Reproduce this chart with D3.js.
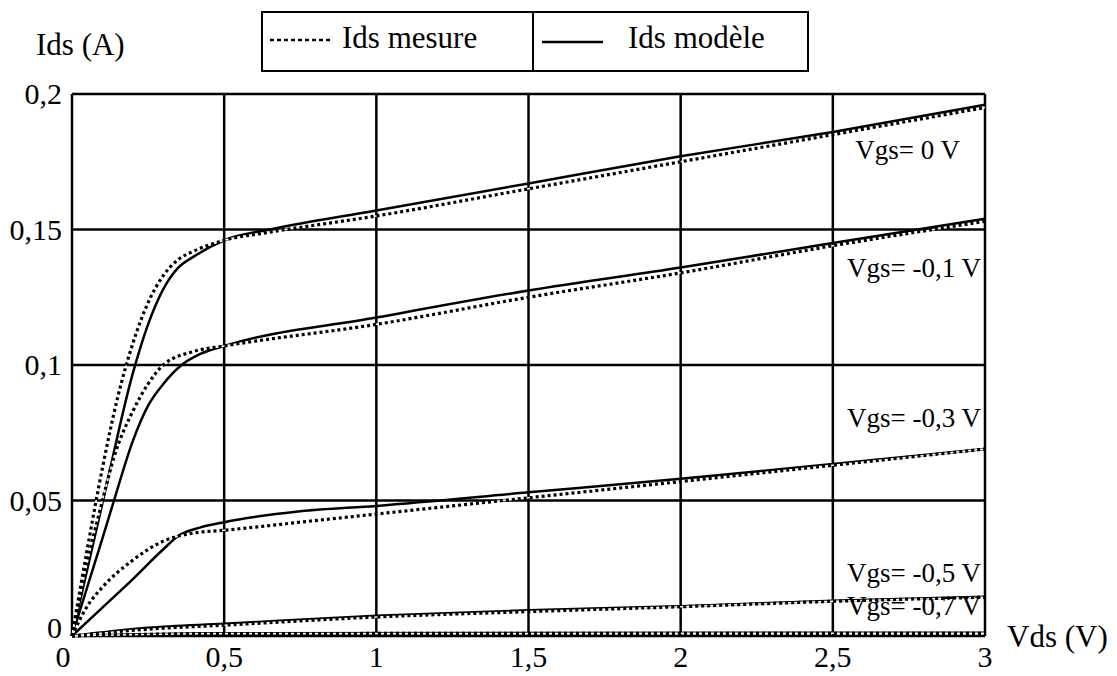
<!DOCTYPE html>
<html>
<head>
<meta charset="utf-8">
<script src="https://cdn.jsdelivr.net/npm/d3@7"></script>
<style>
  body { margin: 0; background: #fff; }
  svg text { font-family: "Liberation Serif", "Times New Roman", serif; fill: #000; }
</style>
</head>
<body>
<svg id="chart" width="1117" height="676"></svg>
<script>
// ticks
const xTicks = [0, 0.5, 1, 1.5, 2, 2.5, 3];
const yTicks = [0, 0.05, 0.1, 0.15, 0.2];

// Vgs = 0 V
const modele0 = [[0,0],[0.1,0.049],[0.2,0.097],[0.25,0.115],[0.3,0.128],[0.35,0.136],[0.4,0.140],[0.5,0.146],[0.65,0.150],[1,0.157],[1.5,0.167],[2,0.177],[2.5,0.186],[3,0.196]];
const mesure0 = [[0,0],[0.05,0.032],[0.1,0.062],[0.15,0.088],[0.2,0.108],[0.25,0.123],[0.3,0.133],[0.35,0.139],[0.4,0.142],[0.5,0.146],[0.65,0.149],[1,0.155],[1.5,0.165],[2,0.175],[2.5,0.185],[3,0.195]];
// Vgs = -0,1 V
const modele1 = [[0,0],[0.1,0.036],[0.138,0.05],[0.2,0.072],[0.25,0.085],[0.3,0.093],[0.36,0.100],[0.42,0.104],[0.5,0.107],[1,0.1175],[1.5,0.1275],[2,0.136],[2.5,0.145],[3,0.154]];
const mesure1 = [[0,0],[0.05,0.027],[0.1,0.05],[0.138,0.066],[0.2,0.083],[0.25,0.093],[0.3,0.1],[0.4,0.105],[0.5,0.107],[1,0.115],[1.5,0.125],[2,0.134],[2.5,0.144],[3,0.153]];
// Vgs = -0,3 V
const modele3 = [[0,0],[0.1,0.0105],[0.2,0.021],[0.3,0.032],[0.35,0.037],[0.42,0.040],[0.5,0.042],[0.75,0.046],[1,0.048],[1.5,0.053],[2,0.058],[2.5,0.0635],[3,0.069]];
const mesure3 = [[0,0],[0.05,0.011],[0.1,0.018],[0.2,0.028],[0.3,0.035],[0.4,0.038],[0.5,0.039],[0.75,0.042],[1,0.045],[1.5,0.051],[2,0.057],[2.5,0.063],[3,0.069]];
// Vgs = -0,5 V
const modele5 = [[0,0],[0.25,0.003],[0.5,0.0045],[1,0.0075],[1.5,0.0095],[2,0.011],[2.5,0.013],[3,0.0145]];
const mesure5 = [[0,0],[0.25,0.0025],[0.5,0.004],[1,0.007],[1.5,0.009],[2,0.0108],[2.5,0.0128],[3,0.0143]];
// Vgs = -0,7 V
const modele7 = [[0,0],[0.5,0.001],[3,0.0012]];
const mesure7 = [[0,0],[0.5,0.0009],[3,0.001]];

const vgsLabels = ["Vgs= 0 V", "Vgs= -0,1 V", "Vgs= -0,3 V", "Vgs= -0,5 V", "Vgs= -0,7 V"];
const labelIds = [0.176, 0.1323, 0.0773, 0.020, 0.0078];

const svg = d3.select("#chart");
const x = d3.scaleLinear().domain([0, 3]).range([72, 985]);
const y = d3.scaleLinear().domain([0, 0.2]).range([636, 94]);
const fmt = d => String(d).replace(".", ",");

// grid + frame
svg.append("g").selectAll("line").data(xTicks).join("line")
    .attr("x1", d => x(d)).attr("x2", d => x(d))
    .attr("y1", y(0)).attr("y2", y(0.2))
    .attr("stroke", "#000").attr("stroke-width", 2.5);
svg.append("g").selectAll("line").data(yTicks).join("line")
    .attr("x1", x(0)).attr("x2", x(3))
    .attr("y1", d => y(d)).attr("y2", d => y(d))
    .attr("stroke", "#000").attr("stroke-width", 2.5);

// tick labels
svg.append("g").selectAll("text").data(yTicks).join("text")
    .attr("x", 62).attr("y", d => y(d) + (d === 0 ? 2 : 10))
    .attr("text-anchor", "end").attr("font-size", 30)
    .text(fmt);
svg.append("g").selectAll("text").data(xTicks).join("text")
    .attr("x", d => x(d) - (d === 0 ? 9 : 0)).attr("y", 667)
    .attr("text-anchor", "middle").attr("font-size", 30)
    .text(fmt);

svg.append("text").attr("x", 36).attr("y", 55).attr("font-size", 31).text("Ids (A)");
svg.append("text").attr("x", 1007).attr("y", 647).attr("font-size", 31).text("Vds (V)");

// curves
const line = d3.line().x(d => x(d[0])).y(d => y(d[1])).curve(d3.curveMonotoneX);
const modeles = [modele0, modele1, modele3, modele5, modele7];
const mesures = [mesure0, mesure1, mesure3, mesure5, mesure7];

svg.append("g").selectAll("path").data(modeles).join("path")
    .attr("d", line).attr("fill", "none")
    .attr("stroke", "#000").attr("stroke-width", 2.5);
svg.append("g").selectAll("path").data(mesures).join("path")
    .attr("d", line).attr("fill", "none")
    .attr("stroke", "#fff").attr("stroke-width", 1.5);
svg.append("g").selectAll("path").data(mesures).join("path")
    .attr("d", line).attr("fill", "none")
    .attr("stroke", "#000").attr("stroke-width", 3.2)
    .attr("stroke-dasharray", "3,3");

// Vgs labels
svg.append("g").selectAll("text").data(vgsLabels).join("text")
    .attr("x", (d, i) => i === 0 ? x(3) - 25 : x(3) - 4)
    .attr("y", (d, i) => y(labelIds[i]))
    .attr("text-anchor", "end").attr("font-size", 27)
    .text(d => d);

// legend
const lg = svg.append("g");
lg.append("rect").attr("x", 262).attr("y", 12).attr("width", 546).attr("height", 59)
    .attr("fill", "none").attr("stroke", "#000").attr("stroke-width", 2);
lg.append("line").attr("x1", 533).attr("x2", 533).attr("y1", 12).attr("y2", 71)
    .attr("stroke", "#000").attr("stroke-width", 2);
lg.append("line").attr("x1", 270).attr("x2", 330).attr("y1", 40).attr("y2", 40)
    .attr("stroke", "#000").attr("stroke-width", 2.5).attr("stroke-dasharray", "4,3");
lg.append("text").attr("x", 342).attr("y", 48).attr("font-size", 31).text("Ids mesure");
lg.append("line").attr("x1", 542).attr("x2", 603).attr("y1", 42).attr("y2", 42)
    .attr("stroke", "#000").attr("stroke-width", 2.5);
lg.append("text").attr("x", 628).attr("y", 48).attr("font-size", 31).text("Ids modèle");
</script>
</body>
</html>
